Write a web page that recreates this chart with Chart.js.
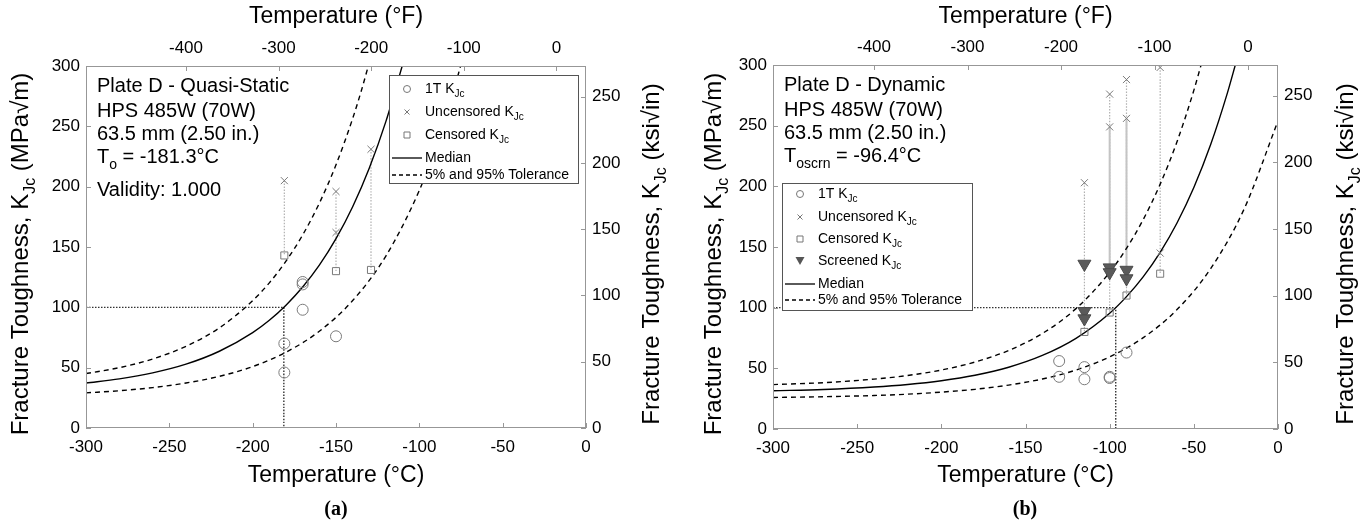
<!DOCTYPE html>
<html>
<head>
<meta charset="utf-8">
<script src="https://cdn.jsdelivr.net/npm/chart.js@4.4.1/dist/chart.umd.min.js"></script>
<style>
  html, body { margin: 0; padding: 0; background: #fff; }
  #wrap { position: relative; width: 1369px; height: 527px; overflow: hidden; }
  canvas { position: absolute; top: 0; }
  #ca { left: 0; }
  #cb { left: 684px; }
  .cap { position: absolute; top: 497px; font: bold 20px "Liberation Serif", "DejaVu Serif", serif; transform: translateX(-50%); }
</style>
</head>
<body>
<div id="wrap">
  <canvas id="ca" width="684" height="527"></canvas>
  <canvas id="cb" width="685" height="527"></canvas>
  <div class="cap" style="left:336px">(a)</div>
  <div class="cap" style="left:1025px">(b)</div>
</div>
<script>
const FONT = '"Liberation Sans", Arial, sans-serif'

// axis ticks
const cTicks = [-300, -250, -200, -150, -100, -50, 0]
const fTicks = [-400, -300, -200, -100, 0]
const mpaTicks = [0, 50, 100, 150, 200, 250, 300]
const ksiTicks = [0, 50, 100, 150, 200, 250]
const ksiPerMPa = 0.9101

// (a) Plate D - Quasi-Static, master curve
const tempMedA = [-300, -280, -260, -240, -220, -200, -190, -180, -170, -160, -150, -140, -130, -120, -110]
const medianA = [37.3, 40.7, 45.7, 52.9, 63.6, 79.1, 89.3, 101.8, 116.8, 134.9, 156.9, 183.4, 215.5, 254.3, 301.3]
const tempLoA = [-300, -280, -260, -240, -220, -200, -180, -160, -140, -120, -100, -90, -80, -75]
const lowerA = [29.1, 30.9, 33.5, 37.3, 42.8, 50.9, 62.8, 80.2, 105.6, 142.7, 196.9, 232.9, 276.4, 301.4]
const tempHiA = [-300, -280, -260, -240, -220, -200, -190, -180, -170, -160, -150, -140, -135, -130]
const upperA = [45.1, 50.0, 57.2, 67.7, 83.0, 105.5, 120.3, 138.3, 160.0, 186.3, 218.1, 256.5, 278.6, 303.0]

// (a) test results
const oneTA_T = [-181, -181, -170, -170, -170, -150]
const oneTA_K = [46, 70, 98, 119, 121, 76]
const uncA_T = [-181, -150, -150, -129]
const uncA_K = [205, 196, 162, 231]
const cenA_T = [-181, -150, -129]
const cenA_K = [143, 130, 131]
const linkA_T = [-181, -150, -129]
const linkA_top = [205, 196, 231]
const linkA_bot = [143, 130, 131]
const t0A = -181.3

// (b) Plate D - Dynamic, master curve
const tempMedB = [-300, -270, -240, -220, -200, -180, -160, -140, -120, -100, -90, -80, -70, -60, -50, -40, -30, -25]
const medianB = [31.5, 32.6, 34.6, 36.7, 39.8, 44.3, 50.9, 60.6, 74.7, 95.4, 109.1, 125.6, 145.6, 169.8, 199.0, 234.4, 277.2, 301.8]
const tempLoB = [-300, -270, -240, -220, -200, -180, -160, -140, -120, -100, -80, -60, -40, -20, 0]
const lowerB = [26.0, 26.6, 27.6, 28.7, 30.4, 32.7, 36.2, 41.2, 48.6, 59.5, 75.3, 98.4, 132.2, 181.7, 254.0]
const tempHiB = [-300, -270, -240, -220, -200, -180, -160, -140, -120, -100, -90, -80, -70, -60, -50, -45]
const upperB = [36.6, 38.2, 41.1, 44.1, 48.6, 55.2, 64.7, 78.7, 99.2, 129.1, 148.9, 172.8, 201.8, 236.7, 279.1, 303.5]

// (b) test results
const oneTB_T = [-130, -130, -115, -115, -100, -100, -90]
const oneTB_K = [56, 43, 51, 41, 42, 43, 63]
const uncB_T = [-115, -100, -100, -90, -90, -70, -70]
const uncB_K = [203, 276, 249, 288, 256, 298, 145]
const cenB_T = [-115, -100, -90, -70]
const cenB_K = [80, 96, 110, 128]
const scrB_T = [-115, -115, -115, -100, -100, -90, -90]
const scrB_K = [136, 97, 91, 133, 129, 131, 124]
const linkB_T = [-115, -100, -90, -70]
const linkB_top = [203, 276, 288, 298]
const linkB_bot = [80, 96, 110, 128]
const solidB_T = [-100, -90]
const solidB_top = [249, 256]
const solidB_bot = [131, 128]
const t0B = -96.4
const kRef = 100

const pts = (xs, ys) => xs.map((x, i) => ({ x, y: ys[i] }))
const segs = (xs, a, b) => xs.flatMap((x, i) => [{ x, y: a[i] }, { x, y: b[i] }, { x, y: null }])

const C2F = c => c * 9 / 5 + 32

function drawRich(ctx, parts, x, y, size, align) {
  const sub = Math.round(size * 0.68)
  let total = 0
  const widths = parts.map(([t, s]) => {
    ctx.font = `${s ? sub : size}px ${FONT}`
    const w = ctx.measureText(t).width
    total += w
    return w
  })
  let cx = align === 'center' ? x - total / 2 : x
  ctx.textAlign = 'left'
  ctx.textBaseline = 'middle'
  parts.forEach(([t, s], i) => {
    ctx.font = `${s ? sub : size}px ${FONT}`
    ctx.fillText(t, cx, s ? y + size * 0.4 : y)
    cx += widths[i]
  })
}

function drawSymbol(ctx, kind, x, y) {
  ctx.save()
  ctx.strokeStyle = '#777'
  ctx.fillStyle = '#555'
  ctx.lineWidth = 1
  ctx.beginPath()
  if (kind === 'circle') {
    ctx.arc(x, y, 3.5, 0, Math.PI * 2)
    ctx.stroke()
  } else if (kind === 'cross') {
    ctx.moveTo(x - 2.5, y - 2.5); ctx.lineTo(x + 2.5, y + 2.5)
    ctx.moveTo(x + 2.5, y - 2.5); ctx.lineTo(x - 2.5, y + 2.5)
    ctx.stroke()
  } else if (kind === 'rect') {
    ctx.rect(x - 3, y - 3, 6, 6)
    ctx.stroke()
  } else if (kind === 'tri') {
    ctx.moveTo(x - 4.5, y - 4); ctx.lineTo(x + 4.5, y - 4); ctx.lineTo(x, y + 4)
    ctx.closePath()
    ctx.fill()
  } else {
    ctx.strokeStyle = '#000'
    ctx.lineWidth = 1.3
    if (kind === 'dash') ctx.setLineDash([4, 3])
    ctx.moveTo(x - 15, y); ctx.lineTo(x + 15, y)
    ctx.stroke()
  }
  ctx.restore()
}

function makeChart(id, p) {
  const overlay = {
    id: 'overlay',
    afterDatasetsDraw(chart) {
      const { ctx, chartArea: a, scales } = chart
      const ox = p.offsetX
      ctx.save()
      // frame + inward ticks
      ctx.strokeStyle = '#979797'
      ctx.lineWidth = 1
      ctx.strokeRect(a.left + 0.5, a.top + 0.5, a.right - a.left - 1, a.bottom - a.top - 1)
      ctx.beginPath()
      const tl = 5
      cTicks.forEach(v => { const px = Math.round(scales.x.getPixelForValue(v)) + 0.5; ctx.moveTo(px, a.bottom); ctx.lineTo(px, a.bottom - tl) })
      fTicks.forEach(v => { const px = Math.round(scales.x2.getPixelForValue(v)) + 0.5; ctx.moveTo(px, a.top); ctx.lineTo(px, a.top + tl) })
      mpaTicks.forEach(v => { const py = Math.round(scales.y.getPixelForValue(v)) + 0.5; ctx.moveTo(a.left, py); ctx.lineTo(a.left + tl, py) })
      ksiTicks.forEach(v => { const py = Math.round(scales.y2.getPixelForValue(v)) + 0.5; ctx.moveTo(a.right, py); ctx.lineTo(a.right - tl, py) })
      ctx.stroke()

      // annotation text
      ctx.fillStyle = '#000'
      p.notes.forEach(n => drawRich(ctx, n.parts, n.x - ox, n.y, 20, 'left'))

      // legend
      const L = p.legend
      ctx.fillStyle = '#fff'
      ctx.fillRect(L.x0 - ox, L.y0, L.x1 - L.x0, L.y1 - L.y0)
      ctx.strokeStyle = '#555'
      ctx.strokeRect(L.x0 - ox + 0.5, L.y0 + 0.5, L.x1 - L.x0, L.y1 - L.y0)
      L.items.forEach(it => {
        drawSymbol(ctx, it.kind, L.symX - ox, it.y)
        ctx.fillStyle = '#000'
        drawRich(ctx, it.parts, L.textX - ox, it.y, 14, 'left')
      })

      // axis titles
      ctx.fillStyle = '#000'
      drawRich(ctx, [['Temperature (°F)']], p.midX - ox, 17, 23, 'center')
      drawRich(ctx, [['Temperature (°C)']], p.midX - ox, 476, 23, 'center')
      const yt = (cx, unit) => {
        ctx.save()
        ctx.translate(cx - ox, 254)
        ctx.rotate(-Math.PI / 2)
        drawRich(ctx, [['Fracture Toughness, K'], ['Jc', true], [' (' + unit + ')']], 0, 0, 24, 'center')
        ctx.restore()
      }
      yt(p.leftTitleX, 'MPa√m')
      yt(p.rightTitleX, 'ksi√in')
      ctx.restore()
    }
  }

  const fit = (w) => (s) => { s.width = w }
  const fitH = (h) => (s) => { s.height = h }
  const tickFont = { family: FONT, size: 17 }
  const setTicks = (arr) => (s) => { s.ticks = arr.map(v => ({ value: v })) }

  const line = (data, dash, color, width) => ({
    data, showLine: true, pointRadius: 0, borderColor: color, borderWidth: width,
    borderDash: dash, cubicInterpolationMode: 'monotone', tension: 0.4, spanGaps: false
  })
  const marks = (data, style, radius, fill, rotation) => ({
    data, showLine: false, pointStyle: style, pointRadius: radius, pointRotation: rotation || 0,
    borderColor: fill ? '#4a4a4a' : '#7a7a7a', backgroundColor: fill ? '#5a5a5a' : 'rgba(0,0,0,0)', borderWidth: 1
  })

  const datasets = [
    ...(p.scr ? [marks(p.scr, 'triangle', 7.5, true, 180)] : []),
    marks(p.oneT, 'circle', 5.5),
    marks(p.unc, 'crossRot', 5),
    marks(p.cen, 'rect', 5),
    line(p.med, [], '#000', 1.4),
    line(p.lo, [5, 4], '#000', 1.4),
    line(p.hi, [5, 4], '#000', 1.4),
    line([{ x: -300, y: kRef }, { x: p.t0, y: kRef }, { x: p.t0, y: 0 }], [1.5, 1.5], '#333', 1.4),
    ...(p.solid ? [line(p.solid, [], '#c4c4c4', 2)] : []),
    line(p.links, [1.5, 1.5], '#b0b0b0', 1.2)
  ]

  return new Chart(document.getElementById(id), {
    type: 'scatter',
    data: { datasets },
    options: {
      responsive: false,
      animation: false,
      events: [],
      layout: { padding: 0 },
      plugins: { legend: { display: false }, tooltip: { enabled: false } },
      scales: {
        x: {
          type: 'linear', position: 'bottom', min: -300, max: 0,
          afterBuildTicks: setTicks(cTicks), afterFit: fitH(p.bottomH),
          grid: { display: false, drawTicks: false }, border: { display: false },
          ticks: { font: tickFont, color: '#000', padding: 9, maxRotation: 0, autoSkip: false }
        },
        x2: {
          type: 'linear', position: 'top', min: C2F(-300), max: C2F(0),
          afterBuildTicks: setTicks(fTicks), afterFit: fitH(p.topH),
          grid: { display: false, drawTicks: false }, border: { display: false },
          ticks: { font: tickFont, color: '#000', padding: 7, maxRotation: 0, autoSkip: false }
        },
        y: {
          type: 'linear', position: 'left', min: 0, max: 300,
          afterBuildTicks: setTicks(mpaTicks), afterFit: fit(p.leftW),
          grid: { display: false, drawTicks: false }, border: { display: false },
          ticks: { font: tickFont, color: '#000', padding: 6, autoSkip: false }
        },
        y2: {
          type: 'linear', position: 'right', min: 0, max: 300 * ksiPerMPa,
          afterBuildTicks: setTicks(ksiTicks), afterFit: fit(p.rightW),
          grid: { display: false, drawTicks: false }, border: { display: false },
          ticks: { font: tickFont, color: '#000', padding: 6, autoSkip: false }
        }
      }
    },
    plugins: [overlay]
  })
}

makeChart('ca', {
  offsetX: 0, leftW: 86, rightW: 98, topH: 66, bottomH: 99,
  midX: 336, leftTitleX: 21, rightTitleX: 652,
  med: pts(tempMedA, medianA), lo: pts(tempLoA, lowerA), hi: pts(tempHiA, upperA),
  oneT: pts(oneTA_T, oneTA_K), unc: pts(uncA_T, uncA_K), cen: pts(cenA_T, cenA_K),
  links: segs(linkA_T, linkA_top, linkA_bot), t0: t0A,
  notes: [
    { x: 97, y: 86, parts: [['Plate D - Quasi-Static']] },
    { x: 97, y: 111, parts: [['HPS 485W (70W)']] },
    { x: 97, y: 134, parts: [['63.5 mm (2.50 in.)']] },
    { x: 97, y: 157, parts: [['T'], ['o', true], [' = -181.3°C']] },
    { x: 97, y: 190, parts: [['Validity: 1.000']] }
  ],
  legend: {
    x0: 389, y0: 75, x1: 578, y1: 183, symX: 407, textX: 425,
    items: [
      { kind: 'circle', y: 89, parts: [['1T K'], ['Jc', true]] },
      { kind: 'cross', y: 112, parts: [['Uncensored K'], ['Jc', true]] },
      { kind: 'rect', y: 135, parts: [['Censored K'], ['Jc', true]] },
      { kind: 'line', y: 158, parts: [['Median']] },
      { kind: 'dash', y: 175, parts: [['5% and 95% Tolerance']] }
    ]
  }
})

makeChart('cb', {
  offsetX: 684, leftW: 89, rightW: 91, topH: 65, bottomH: 98,
  midX: 1025.5, leftTitleX: 714, rightTitleX: 1346,
  med: pts(tempMedB, medianB), lo: pts(tempLoB, lowerB), hi: pts(tempHiB, upperB),
  oneT: pts(oneTB_T, oneTB_K), unc: pts(uncB_T, uncB_K), cen: pts(cenB_T, cenB_K),
  scr: pts(scrB_T, scrB_K),
  links: segs(linkB_T, linkB_top, linkB_bot), solid: segs(solidB_T, solidB_top, solidB_bot), t0: t0B,
  notes: [
    { x: 784, y: 85, parts: [['Plate D - Dynamic']] },
    { x: 784, y: 110, parts: [['HPS 485W (70W)']] },
    { x: 784, y: 133, parts: [['63.5 mm (2.50 in.)']] },
    { x: 784, y: 156, parts: [['T'], ['oscrn', true], [' = -96.4°C']] }
  ],
  legend: {
    x0: 782, y0: 183, x1: 972, y1: 310, symX: 800, textX: 818,
    items: [
      { kind: 'circle', y: 194, parts: [['1T K'], ['Jc', true]] },
      { kind: 'cross', y: 217, parts: [['Uncensored K'], ['Jc', true]] },
      { kind: 'rect', y: 239, parts: [['Censored K'], ['Jc', true]] },
      { kind: 'tri', y: 261, parts: [['Screened K'], ['Jc', true]] },
      { kind: 'line', y: 284, parts: [['Median']] },
      { kind: 'dash', y: 300, parts: [['5% and 95% Tolerance']] }
    ]
  }
})
</script>
</body>
</html>
